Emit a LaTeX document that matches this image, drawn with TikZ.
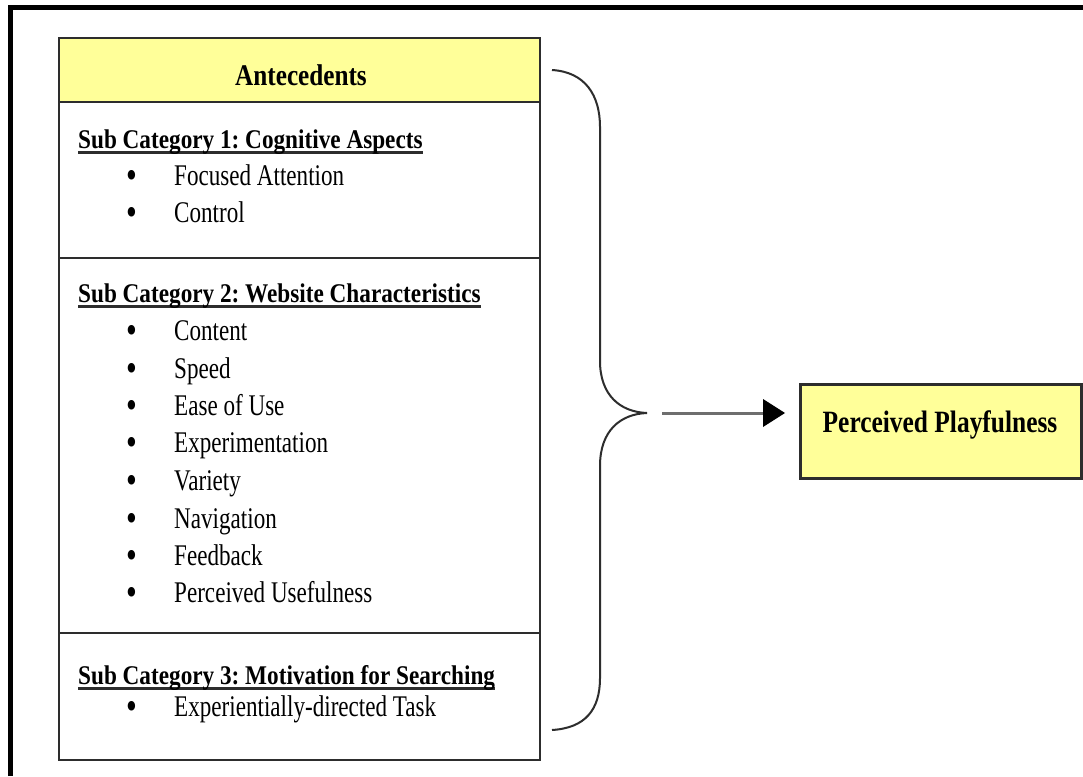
\documentclass[tikz,border=0pt]{standalone}
\usepackage{fontspec}
\setmainfont{Liberation Serif}[FakeStretch=0.77]
\newfontfamily\subheadfont{Liberation Serif}[BoldFeatures={FakeStretch=0.86}]
\newfontfamily\titlefont{Liberation Serif}[BoldFeatures={FakeStretch=0.84}]
\newfontfamily\outcomefont{Liberation Serif}[BoldFeatures={FakeStretch=0.82}]
\usetikzlibrary{arrows.meta}
\definecolor{paleyellow}{RGB}{255,255,153}
\definecolor{inkgray}{RGB}{45,45,45}
\definecolor{arrowgray}{RGB}{110,110,110}
% bold heading with a heavy rule beneath it
\newcommand\subhead[1]{\setbox0\hbox{\subheadfont\bfseries #1}\rlap{\color{inkgray}\rule[-6pt]{\wd0}{2.6pt}}\box0}

\begin{document}
\frenchspacing
\begin{tikzpicture}[x=1pt,y=-1pt,
  txt/.style={inner sep=0pt, anchor=base west, font=\fontsize{30}{34}\selectfont},
  subtxt/.style={inner sep=0pt, anchor=base west, font=\fontsize{27}{31}\selectfont},
  bul/.style={inner sep=0pt, anchor=base, font=\fontsize{40}{44}\selectfont},
  boxline/.style={draw=inkgray, line width=2pt},
  bracestyle/.style={draw=inkgray, line width=2pt},
  arr/.style={draw=arrowgray, line width=3pt,
    -{Triangle[length=22pt,width=28pt,color=black,line width=0pt]}}
]
\useasboundingbox (0,0) rectangle (1083,776);
\fill[white] (0,0) rectangle (1083,776);

% outer frame (top and left edges)
\draw[line width=5pt] (10,776) -- (10,8) -- (1083,8);

% antecedents table
\fill[paleyellow] (59,38) rectangle (540,102);
\draw[boxline] (59,38) rectangle (540,760);
\draw[boxline] (59,102) -- (540,102);
\draw[boxline] (59,258) -- (540,258);
\draw[boxline] (59,633) -- (540,633);

\node[inner sep=0pt, anchor=base, font=\fontsize{30}{34}\titlefont\bfseries] (ante) at (301,85) {Antecedents};

% sub category 1
\node[subtxt] (sc1) at (78,148) {\subhead{Sub Category 1: Cognitive Aspects}};
\foreach \name/\y/\label in {fa/185/Focused Attention, ctl/222/Control}{
  \node[bul] (b-\name) at (132,\y+3) {\textbullet};
  \node[txt] (\name) at (174,\y) {\label};
}

% sub category 2
\node[subtxt] (sc2) at (78,302) {\subhead{Sub Category 2: Website Characteristics}};
\foreach \name/\y/\label in {con/340/Content, spd/378/Speed, eou/415/Ease of Use,
    exp/452/Experimentation, var/490/Variety, nav/528/Navigation,
    fbk/565/Feedback, pu/602/Perceived Usefulness}{
  \node[bul] (b-\name) at (132,\y+3) {\textbullet};
  \node[txt] (\name) at (174,\y) {\label};
}

% sub category 3
\node[subtxt] (sc3) at (78,684) {\subhead{Sub Category 3: Motivation for Searching}};
\node[bul] (b-edt) at (132,719) {\textbullet};
\node[txt] (edt) at (174,716) {Experientially-directed Task};

% brace grouping the three sub categories
\coordinate (tip) at (647,413);
\draw[bracestyle] (552,70) .. controls (585,72) and (600,95) .. (600,127)
  -- (600,361) .. controls (600,395) and (620,412) .. (tip)
  .. controls (620,414) and (600,431) .. (600,466)
  -- (600,678) .. controls (600,710) and (585,728) .. (552,730);

% outcome box
\node[draw=inkgray, fill=paleyellow, line width=2.5pt, minimum width=281pt,
  minimum height=94pt, anchor=north west, inner sep=0pt] (pp) at (799,383) {};
\draw[line width=2.5pt, draw=black] ([xshift=2pt]pp.north east) -- ([xshift=2pt]pp.south east);
\node[inner sep=0pt, anchor=base, font=\fontsize{31}{35}\outcomefont\bfseries] (ppt) at (940,432) {Perceived Playfulness};

% arrow from brace to outcome
\draw[arr, shorten <=15pt, shorten >=14pt] (tip) -- (pp.west |- tip);
\end{tikzpicture}
\end{document}
